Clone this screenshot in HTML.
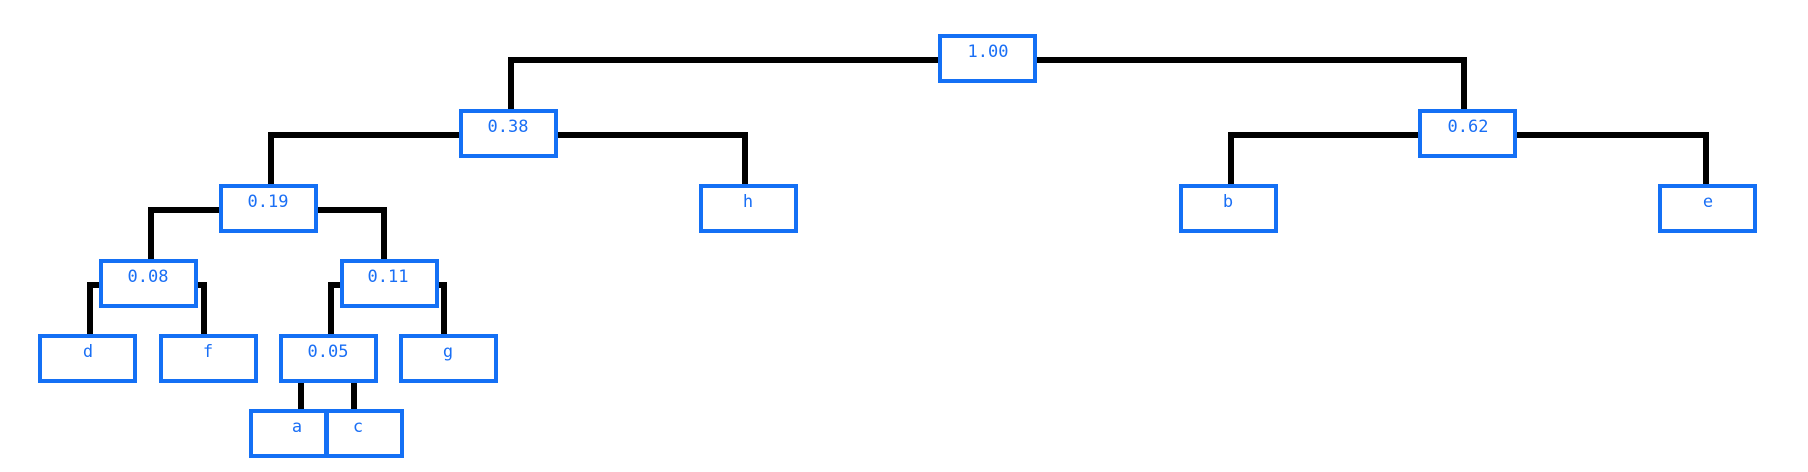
<!DOCTYPE html>
<html><head><meta charset="utf-8"><style>
html,body{margin:0;padding:0;background:#fff;}
svg{display:block;}
text{font-family:"DejaVu Sans Mono","Liberation Mono",monospace;font-size:17px;fill:#1a6ff5;text-anchor:middle;}
rect{fill:#fff;stroke:#1470f5;stroke-width:4;}
path{fill:none;stroke:#000;stroke-width:6;}
</style></head><body>
<svg width="1808" height="472" viewBox="0 0 1808 472" xmlns="http://www.w3.org/2000/svg">
<!-- connectors -->
<path d="M511 109 V60 H1464 V109"/>
<path d="M271 184 V135 H745 V184"/>
<path d="M1231 184 V135 H1706 V184"/>
<path d="M151 259 V210 H384 V259"/>
<path d="M90 334 V285 H204 V334"/>
<path d="M331 334 V285 H444 V334"/>
<path d="M301 383 V410"/>
<path d="M354 383 V410"/>
<!-- boxes -->
<rect x="940" y="36" width="95" height="45"/><text x="988" y="57">1.00</text>
<rect x="461" y="111" width="95" height="45"/><text x="508" y="132">0.38</text>
<rect x="1420" y="111" width="95" height="45"/><text x="1468" y="132">0.62</text>
<rect x="221" y="186" width="95" height="45"/><text x="268" y="207">0.19</text>
<rect x="701" y="186" width="95" height="45"/><text x="748" y="207">h</text>
<rect x="1181" y="186" width="95" height="45"/><text x="1228" y="207">b</text>
<rect x="1660" y="186" width="95" height="45"/><text x="1708" y="207">e</text>
<rect x="101" y="261" width="95" height="45"/><text x="148" y="282">0.08</text>
<rect x="342" y="261" width="95" height="45"/><text x="388" y="282">0.11</text>
<rect x="40" y="336" width="95" height="45"/><text x="88" y="357">d</text>
<rect x="161" y="336" width="95" height="45"/><text x="208" y="357">f</text>
<rect x="281" y="336" width="95" height="45"/><text x="328" y="357">0.05</text>
<rect x="401" y="336" width="95" height="45"/><text x="448" y="357">g</text>
<rect x="251" y="411" width="75" height="45"/><text x="297" y="432">a</text>
<rect x="327" y="411" width="75" height="45"/><text x="358" y="432">c</text>
</svg>
</body></html>
